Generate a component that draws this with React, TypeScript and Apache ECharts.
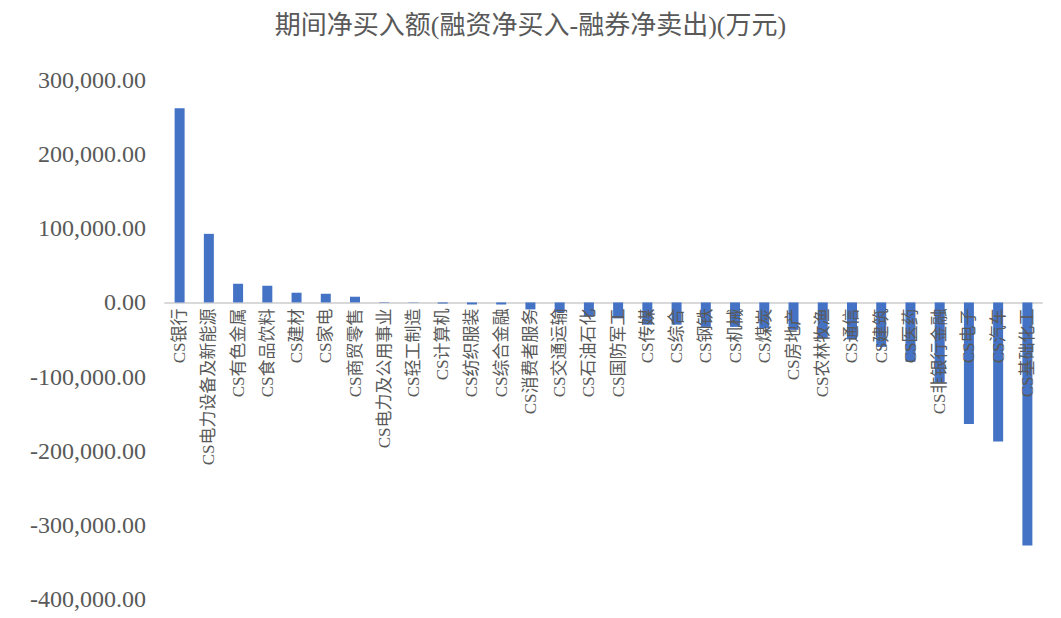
import React, { useEffect, useRef } from "react";
import * as echarts from "echarts";

const titleText = "期间净买入额(融资净买入-融券净卖出)(万元)";

const categories = [
  "CS银行", "CS电力设备及新能源", "CS有色金属", "CS食品饮料", "CS建材", "CS家电",
  "CS商贸零售", "CS电力及公用事业", "CS轻工制造", "CS计算机", "CS纺织服装", "CS综合金融",
  "CS消费者服务", "CS交通运输", "CS石油石化", "CS国防军工", "CS传媒", "CS综合",
  "CS钢铁", "CS机械", "CS煤炭", "CS房地产", "CS农林牧渔", "CS通信",
  "CS建筑", "CS医药", "CS非银行金融", "CS电子", "CS汽车", "CS基础化工",
];

const netBuy = [
  262000, 92500, 25200, 22500, 13100, 11700,
  7700, 600, 400, -1500, -2800, -2800,
  -9400, -13200, -18800, -21500, -30000, -30000,
  -33000, -33000, -35000, -37000, -48000, -49800,
  -60000, -80000, -108000, -164000, -187500, -328000,
];

const yMin = -400000;
const yMax = 300000;
const yStep = 100000;

const fmt = (v: number) => {
  const s = Math.abs(v).toFixed(2);
  const [i, d] = s.split(".");
  const withComma = i.replace(/\B(?=(\d{3})+(?!\d))/g, ",");
  return (v < 0 ? "-" : "") + withComma + "." + d;
};

const FONT = "'Liberation Serif', 'Noto Sans CJK SC', serif";

const W = 1061;
const H = 618;
const G_LEFT = 165;
const G_RIGHT = 19;
const G_TOP = 80;
const G_BOTTOM = 19;

export default function App() {
  const ref = useRef<HTMLDivElement>(null);
  useEffect(() => {
    document.body.style.margin = "0";
    if (!ref.current) return;
    const chart = echarts.init(ref.current, null, { renderer: "svg" });
    const plotH = H - G_TOP - G_BOTTOM;
    const zeroY = G_TOP + (yMax / (yMax - yMin)) * plotH;
    chart.setOption({
      animation: false,
      backgroundColor: "#ffffff",
      title: {
        text: titleText,
        left: "center",
        top: 7,
        textStyle: { fontFamily: FONT, fontSize: 26, fontWeight: "normal", color: "#595959" },
      },
      grid: [
        { left: G_LEFT, right: G_RIGHT, top: G_TOP, bottom: G_BOTTOM, containLabel: false, outerBoundsMode: "none" },
        { left: G_LEFT, right: G_RIGHT, top: G_TOP, bottom: H - zeroY, containLabel: false, outerBoundsMode: "none" },
      ],
      xAxis: [
        {
          type: "category",
          gridIndex: 0,
          data: categories,
          axisLine: { onZero: true, lineStyle: { color: "#d9d9d9", width: 2 } },
          axisTick: { show: false },
          axisLabel: { show: false },
        },
        {
          type: "category",
          gridIndex: 1,
          data: categories,
          position: "bottom",
          z: 20,
          axisLine: { show: false },
          axisTick: { show: false },
          axisLabel: {
            rotate: 90,
            interval: 0,
            margin: 6,
            fontFamily: FONT,
            fontSize: 17,
            color: "#595959",
          },
        },
      ],
      yAxis: [
        {
          type: "value",
          gridIndex: 0,
          min: yMin,
          max: yMax,
          interval: yStep,
          splitLine: { show: false },
          axisLine: { show: false },
          axisTick: { show: false },
          axisLabel: {
            formatter: (v: number) => fmt(v),
            fontFamily: FONT,
            fontSize: 24,
            color: "#595959",
            margin: 19,
          },
        },
        {
          type: "value",
          gridIndex: 1,
          min: 0,
          max: 1,
          show: false,
        },
      ],
      series: [
        {
          type: "bar",
          xAxisIndex: 0,
          yAxisIndex: 0,
          data: netBuy,
          barWidth: 10,
          z: 2,
          itemStyle: { color: "#4472c4" },
        },
        {
          type: "bar",
          xAxisIndex: 1,
          yAxisIndex: 1,
          data: [],
          silent: true,
        },
      ],
    });
    return () => chart.dispose();
  }, []);
  return <div ref={ref} style={{ width: W, height: H }} />;
}
